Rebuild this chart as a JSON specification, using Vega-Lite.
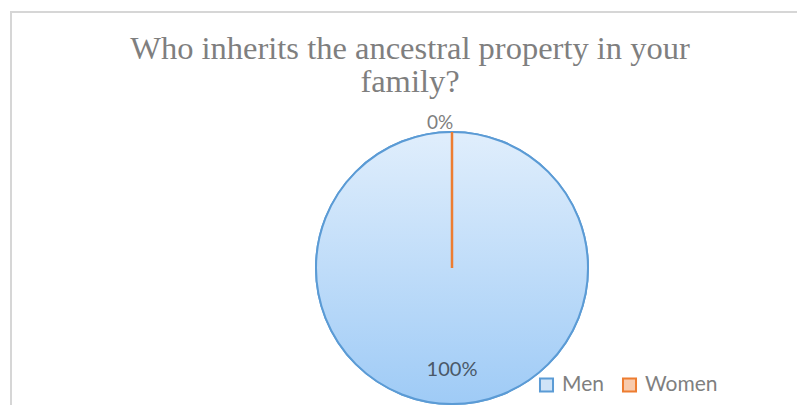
{
  "$schema": "https://vega.github.io/schema/vega-lite/v6.json",
  "autosize": {"type": "none"},
  "width": 882,
  "height": 512,
  "padding": {"left": 11, "top": 12, "right": -96, "bottom": -119},
  "background": "white",
  "view": {"stroke": "#d6d6d6", "strokeWidth": 2, "fill": "white"},
  "title": {
    "text": ["Who inherits the ancestral property in your", "family?"],
    "font": "Liberation Serif",
    "fontSize": 32.5,
    "fontWeight": "normal",
    "color": "#7f7f7f",
    "anchor": "middle",
    "frame": "group",
    "orient": "top",
    "baseline": "top",
    "offset": -58,
    "dx": -42,
    "dy": 28,
    "lineHeight": 33
  },
  "data": {
    "values": [
      {"gender": "Men", "share": 100, "label": "100%"},
      {"gender": "Women", "share": 0, "label": "0%"}
    ]
  },
  "encoding": {
    "theta": {"field": "share", "type": "quantitative", "stack": true}
  },
  "layer": [
    {
      "mark": {"type": "arc", "outerRadius": 136, "strokeWidth": 2},
      "encoding": {
        "fill": {
          "field": "gender", "type": "nominal",
          "scale": {"domain": ["Men", "Women"], "range": ["#cfe3f7", "#f8cbad"]},
          "legend": {"orient": "none", "legendX": 525, "legendY": 362, "direction": "horizontal", "title": null, "symbolType": "square", "symbolSize": 170, "symbolStrokeWidth": 2, "labelFont": "Lato", "labelFontSize": 21, "labelColor": "#7f7f7f", "columnPadding": 14, "labelOffset": 5}
        },
        "stroke": {
          "field": "gender", "type": "nominal",
          "scale": {"domain": ["Men", "Women"], "range": ["#5b9bd5", "#ed7d31"]},
          "legend": {"orient": "none", "legendX": 525, "legendY": 362, "direction": "horizontal", "title": null, "symbolType": "square", "symbolSize": 170, "symbolStrokeWidth": 2, "labelFont": "Lato", "labelFontSize": 21, "labelColor": "#7f7f7f", "columnPadding": 14, "labelOffset": 5}
        }
      }
    },
    {
      "transform": [{"filter": "datum.gender === 'Men'"}],
      "mark": {
        "type": "arc", "outerRadius": 136, "stroke": "#5b9bd5", "strokeWidth": 2,
        "fill": {"gradient": "linear", "x1": 0, "y1": 0, "x2": 0, "y2": 1,
          "stops": [{"offset": 0, "color": "#e0eefc"}, {"offset": 1, "color": "#9fcbf6"}]}
      }
    },
    {
      "transform": [{"filter": "datum.gender === 'Women'"}],
      "mark": {"type": "arc", "outerRadius": 136, "stroke": "#ed7d31", "strokeWidth": 2.5, "fill": "transparent"}
    },
    {
      "transform": [{"filter": "datum.gender === 'Men'"}],
      "mark": {"type": "text", "radius": 102, "font": "Lato", "fontSize": 20, "fill": "#4a5868"},
      "encoding": {"text": {"field": "label"}}
    },
    {
      "transform": [{"filter": "datum.gender === 'Women'"}],
      "mark": {"type": "text", "radius": 145, "dx": -12, "font": "Lato", "fontSize": 19, "fill": "#7f7f7f"},
      "encoding": {"text": {"field": "label"}}
    }
  ]
}
